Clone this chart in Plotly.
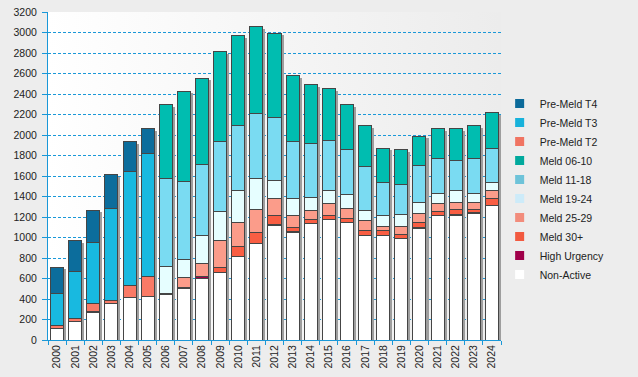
import base64
import plotly.graph_objects as go

years = [str(y) for y in range(2000, 2025)]

non_active = [110, 178, 272, 354, 410, 429, 442, 499, 604, 654, 810, 946, 1120, 1046, 1132,
              1180, 1151, 1015, 1024, 995, 1091, 1210, 1215, 1231, 1314]
high_urgency = [0, 0, 8, 0, 0, 0, 15, 11, 15, 0, 0, 0, 11, 9, 0,
                0, 0, 0, 0, 0, 9, 0, 6, 9, 0]
meld_30 = [0, 0, 0, 0, 0, 0, 0, 0, 0, 58, 107, 98, 79, 38, 42,
           39, 39, 51, 42, 39, 44, 48, 57, 31, 62]
meld_25_29 = [0, 0, 0, 0, 0, 0, 0, 95, 132, 254, 234, 234, 175, 120, 94,
              108, 94, 98, 46, 78, 95, 69, 59, 68, 78]
meld_19_24 = [0, 0, 0, 0, 0, 0, 265, 185, 273, 286, 312, 302, 176, 163, 127,
              127, 140, 104, 98, 117, 107, 107, 117, 95, 87]
meld_11_18 = [0, 0, 0, 0, 0, 0, 849, 758, 693, 689, 625, 625, 608, 556, 527,
              497, 439, 420, 331, 293, 352, 332, 302, 332, 329]
meld_06_10 = [0, 0, 0, 0, 0, 0, 722, 881, 839, 878, 881, 858, 826, 653, 566,
              507, 439, 409, 332, 341, 292, 293, 303, 331, 354]
pre_t2 = [27, 36, 81, 36, 117, 186] + [0] * 19
pre_t3 = [312, 455, 595, 894, 1118, 1200] + [0] * 19
pre_t4 = [263, 306, 312, 326, 287, 244] + [0] * 19

y_ticks = list(range(0, 3201, 200))

series = [
    ("Non-Active", non_active, "#FFFFFF", "#FFFFFF"),
    ("High Urgency", high_urgency, "#A0004A", "#A0004A"),
    ("Meld 30+", meld_30, "#F95E43", "#F25A40"),
    ("Meld 25-29", meld_25_29, "#FB9C8A", "#F28C7C"),
    ("Meld 19-24", meld_19_24, "#E6FEFF", "#CDEBF9"),
    ("Meld 11-18", meld_11_18, "#7ADBF2", "#6EC3D9"),
    ("Meld 06-10", meld_06_10, "#00BDB0", "#00A99D"),
    ("Pre-Meld T2", pre_t2, "#F97A66", "#F07462"),
    ("Pre-Meld T3", pre_t3, "#18B9E0", "#17B2DB"),
    ("Pre-Meld T4", pre_t4, "#0C6D9C", "#0B6A9A"),
]

totals = [sum(s[1][i] for s in series) for i in range(len(years))]

BW = 0.72
blue = "#1A98D8"
font = "Liberation Sans, Arial, sans-serif"

fig = go.Figure()

# drop shadow behind each bar
fig.add_trace(go.Bar(
    x=years, y=totals, base=-24, width=BW, offset=-BW / 2 + 0.14,
    marker=dict(color="#9E9E9E", line=dict(width=0)),
    showlegend=False, hoverinfo="skip", xaxis="x", yaxis="y",
))

for name, vals, color, lcolor in series:
    fig.add_trace(go.Bar(
        x=years, y=[v if v else None for v in vals], name=name, width=BW,
        marker=dict(color=color, line=dict(color="#454545", width=1)),
        xaxis="x2", yaxis="y2", showlegend=False, legendgroup=name,
    ))

# legend entries (small square swatches without border)
for name, vals, color, lcolor in series:
    fig.add_trace(go.Scatter(
        x=[None], y=[None], mode="markers", name=name, legendgroup=name,
        marker=dict(symbol="square", size=9, color=lcolor, line=dict(width=0)),
        xaxis="x2", yaxis="y2",
    ))

svg = ('<svg xmlns="http://www.w3.org/2000/svg" width="100" height="100" viewBox="0 0 100 100" '
       'preserveAspectRatio="none"><defs><linearGradient id="g" x1="0" y1="0" x2="1" y2="0">'
       '<stop offset="0" stop-color="#FFFFFF"/><stop offset="1" stop-color="#ECECEC"/>'
       '</linearGradient></defs><rect width="100" height="100" fill="url(#g)"/></svg>')
src = "data:image/svg+xml;base64," + base64.b64encode(svg.encode()).decode()

xrange_ = [-0.5, len(years) - 0.5]
fig.update_layout(
    width=638, height=377,
    margin=dict(l=48, r=137, t=12, b=37, autoexpand=False),
    paper_bgcolor="#EDEDED", plot_bgcolor="rgba(0,0,0,0)",
    barmode="stack",
    font=dict(family=font, size=10.5, color="#222222"),
    images=[dict(source=src, xref="paper", yref="paper", x=0, y=1, sizex=1, sizey=1,
                 xanchor="left", yanchor="top", sizing="stretch", layer="below")],
    xaxis=dict(type="category", categoryorder="array", categoryarray=years, range=xrange_,
               showline=True, linecolor=blue, linewidth=1, ticks="outside", ticklen=4,
               tickcolor=blue, tickson="boundaries", tickangle=-90, showgrid=False,
               automargin=False, tickfont=dict(size=10.5, color="#222222")),
    yaxis=dict(range=[0, 3200], tickvals=y_ticks, showgrid=True, gridcolor=blue, gridwidth=1,
               griddash="3px,2px", showline=True, linecolor=blue, linewidth=1,
               ticks="outside", ticklen=5, tickcolor=blue, zeroline=False, automargin=False,
               ticklabelstandoff=3, tickfont=dict(size=10.5, color="#222222")),
    xaxis2=dict(type="category", categoryorder="array", categoryarray=years, range=xrange_,
                overlaying="x", visible=False, automargin=False),
    yaxis2=dict(range=[0, 3200], overlaying="y", visible=False, automargin=False),
    legend=dict(traceorder="reversed", x=0.997, xanchor="left", y=0.765, yanchor="top",
                bgcolor="rgba(0,0,0,0)", font=dict(size=10.5, color="#222222"),
                itemclick=False, itemdoubleclick=False),
    hovermode=False,
)

fig.write_html("out.html", post_script="document.body.style.margin='0';",
               config={"displayModeBar": False, "staticPlot": True})
